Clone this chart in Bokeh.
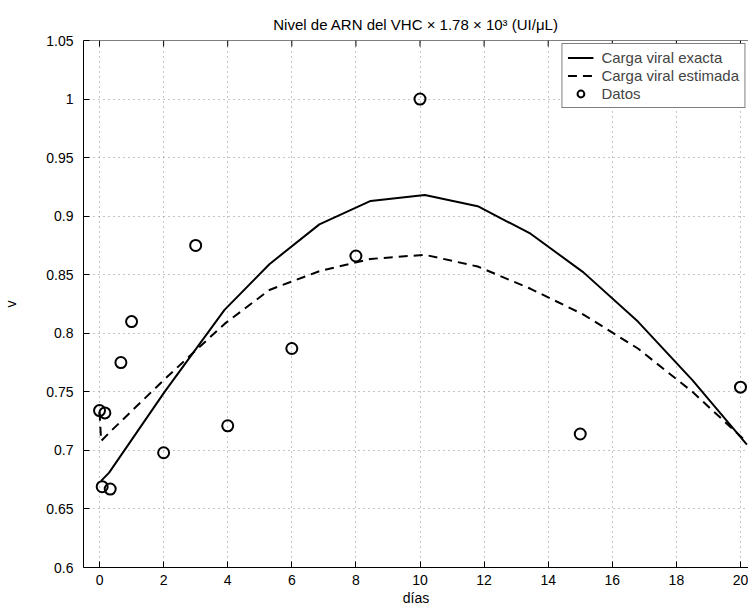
from bokeh.plotting import figure
from bokeh.models import (Range1d, FixedTicker, NumeralTickFormatter,
                          Legend, LegendItem, Span)
from bokeh.embed import file_html
from bokeh.resources import INLINE

# ---- data ----
t_exact = [0.05, 0.3, 2.03, 3.9, 5.3, 6.86, 8.46, 10.15, 11.8, 13.45, 15.1, 16.8, 18.5, 20.2]
v_exact = [0.674, 0.681, 0.75, 0.82, 0.859, 0.893, 0.913, 0.918, 0.9085, 0.885, 0.852, 0.81, 0.76, 0.705]

t_est = [0.0, 0.05, 0.3, 2.0, 3.9, 5.3, 6.86, 8.46, 10.15, 11.8, 13.45, 15.1, 16.8, 18.5, 20.2]
v_est = [0.733, 0.708, 0.715, 0.76, 0.808, 0.837, 0.853, 0.8635, 0.867, 0.857, 0.838, 0.816, 0.787, 0.75, 0.707]

t_data = [0, 0.083, 0.167, 0.333, 0.667, 1, 2, 3, 4, 6, 8, 10, 15, 20]
v_data = [0.734, 0.669, 0.732, 0.667, 0.775, 0.81, 0.698, 0.875, 0.721, 0.787, 0.866, 1.0, 0.714, 0.754]

x_ticks = [0, 2, 4, 6, 8, 10, 12, 14, 16, 18, 20]
y_ticks = [0.6, 0.65, 0.7, 0.75, 0.8, 0.85, 0.9, 0.95, 1.0, 1.05]

FONT = "Liberation Sans"
Y0, Y1 = 0.6, 1.05
FRAME_H = 528

p = figure(width=748, height=608, output_backend="svg", toolbar_location=None,
           x_range=Range1d(-0.5, 20.25), y_range=Range1d(Y0, Y1),
           min_border_left=78, min_border_right=0, min_border_top=40, min_border_bottom=40,
           title="Nivel de ARN del VHC × 1.78 × 10³ (UI/μL)")
p.outline_line_color = None
p.title.align = "center"
p.title.text_font = FONT
p.title.text_font_size = "15px"
p.title.text_font_style = "normal"
p.title.text_color = "black"
p.title.standoff = 15

# axes
for ax in (p.xaxis[0], p.yaxis[0]):
    ax.major_tick_in = 6
    ax.major_tick_out = 0
    ax.minor_tick_line_color = None
    ax.axis_line_color = "black"
    ax.major_tick_line_color = "black"
    ax.major_label_text_font = FONT
    ax.major_label_text_font_size = "14px"
    ax.major_label_text_color = "black"
    ax.axis_label_text_font = FONT
    ax.axis_label_text_font_size = "14px"
    ax.axis_label_text_font_style = "normal"
    ax.axis_label_text_color = "black"

p.xaxis[0].ticker = FixedTicker(ticks=x_ticks)
p.yaxis[0].ticker = FixedTicker(ticks=y_ticks)
p.yaxis[0].formatter = NumeralTickFormatter(format="0.[00]")
p.xaxis[0].axis_label = "días"
p.yaxis[0].axis_label = "v"
p.xaxis[0].major_label_standoff = 7
p.yaxis[0].major_label_standoff = 10
p.xaxis[0].axis_label_standoff = 2
p.yaxis[0].axis_label_standoff = 24

# top border with inward ticks
p.add_layout(Span(location=Y1, dimension="width", line_color="black", line_width=1))
tick_len = 6 * (Y1 - Y0) / FRAME_H
p.segment(x0=x_ticks, y0=[Y1] * len(x_ticks), x1=x_ticks,
          y1=[Y1 - tick_len] * len(x_ticks), line_color="black", line_width=1)

# grid
for g in (p.xgrid[0], p.ygrid[0]):
    g.grid_line_color = "#8a8a8a"
    g.grid_line_dash = "1 4"
    g.grid_line_width = 1
p.xgrid[0].ticker = FixedTicker(ticks=x_ticks)
p.ygrid[0].ticker = FixedTicker(ticks=y_ticks)

r1 = p.line(t_exact, v_exact, line_color="black", line_width=2)
r2 = p.line(t_est, v_est, line_color="black", line_width=2, line_dash="9 6")
r3 = p.scatter(t_data, v_data, marker="circle", size=11, fill_color=None,
               line_color="black", line_width=2)

legend = Legend(items=[LegendItem(label="Carga viral exacta", renderers=[r1]),
                       LegendItem(label="Carga viral estimada", renderers=[r2]),
                       LegendItem(label="Datos", renderers=[r3])],
                location="top_right", margin=3, padding=5, spacing=1,
                glyph_width=26, glyph_height=17, label_height=17, label_standoff=8,
                label_text_font=FONT, label_text_font_size="15px",
                border_line_color="black", border_line_width=1,
                background_fill_alpha=1.0)
p.add_layout(legend, "center")

open("out.html", "w").write(file_html(p, INLINE))
